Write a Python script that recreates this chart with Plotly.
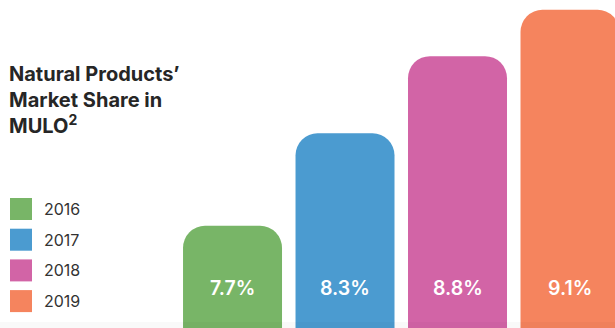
import plotly.graph_objects as go

years = ["2016", "2017", "2018", "2019"]
shares = [7.7, 8.3, 8.8, 9.1]
labels = [f"{v}%" for v in shares]
colors = ["#78B567", "#4B9BD0", "#D264A6", "#F5845E"]

W, H = 615, 328
FONT = "Inter"

fig = go.Figure()
fig.add_trace(go.Bar(
    x=list(range(len(years))), y=shares,
    marker=dict(color=colors, line=dict(width=0)),
    width=0.88, showlegend=False, hoverinfo="skip",
))

# value labels near the bottom of each bar
for i, lab in enumerate(labels):
    fig.add_annotation(x=i, y=7.30, xref="x", yref="y", text=lab,
                       showarrow=False,
                       font=dict(family=FONT, size=19.5, color="white", weight=600))

# title
fig.add_annotation(x=7 / W, y=1 - 60 / H, xref="paper", yref="paper",
                   xanchor="left", yanchor="top", align="left", showarrow=False,
                   text="Natural Products’<br>Market Share in<br>MULO<sup>2</sup>",
                   font=dict(family=FONT, size=20, color="#262626", weight=700))

# legend
shapes = []
for k, (yr, c) in enumerate(zip(years, colors)):
    top = 198 + k * 30.7
    shapes.append(dict(type="rect", xref="paper", yref="paper",
                       x0=10 / W, x1=32 / W, y0=1 - (top + 22) / H, y1=1 - top / H,
                       fillcolor=c, line=dict(width=0)))
    fig.add_annotation(x=42 / W, y=1 - (top + 11) / H, xref="paper", yref="paper",
                       xanchor="left", yanchor="middle", showarrow=False, text=yr,
                       font=dict(family=FONT, size=16, color="#333333"))

# faint shadow along the bottom edge
shapes.append(dict(type="rect", xref="paper", yref="paper", layer="above",
                   x0=0, x1=1, y0=0, y1=6 / H,
                   fillcolor="rgba(0,0,0,0.025)", line=dict(width=0)))

fig.update_layout(
    width=W, height=H, margin=dict(l=0, r=0, t=0, b=0),
    paper_bgcolor="white", plot_bgcolor="white",
    barcornerradius=22, shapes=shapes,
    xaxis=dict(range=[-2.067, 3.4], visible=False, fixedrange=True),
    yaxis=dict(range=[7.038, 9.164], visible=False, fixedrange=True),
)
fig.write_html("out.html")
